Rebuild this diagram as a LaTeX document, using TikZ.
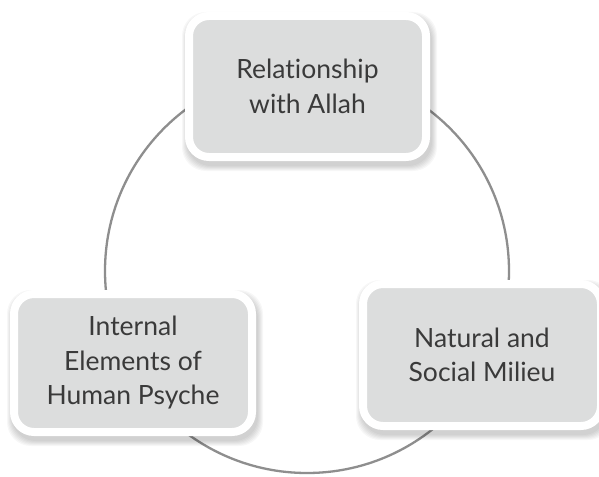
\documentclass[tikz,border=0pt]{standalone}
\usepackage{fontspec}
\setmainfont[Ligatures={NoCommon}]{Lato}
\definecolor{boxgray}{HTML}{DCDDDD}
\definecolor{txt}{HTML}{3A3A3A}
\definecolor{ring}{HTML}{8E8E8E}
\tikzset{
 topic/.style={draw=white, line width=8pt, fill=boxgray, rounded corners=20pt, text=txt, align=center, font=\fontsize{26.5}{34.5}\selectfont, inner sep=0pt},
 ringline/.style={draw=ring, line width=2.3pt},
 softshadow/.style={fill=black, opacity=0.03, rounded corners=24pt},
}
\begin{document}
\begin{tikzpicture}[x=1pt,y=-1pt]
\useasboundingbox (0,0) rectangle (599,476);
\fill[white] (0,0) rectangle (599,476);
\coordinate (c) at (307,271);
\draw[ringline] (c) circle[radius=202pt];
\foreach \cx/\cy/\w/\h in {307.5/86.5/245/149, 133/363/246/146, 482/355/246/150}{
  \foreach \k in {0,2,...,10}{
    \fill[softshadow] ({\cx-\w/2-\k/2+2}, {\cy-\h/2-\k/2+5}) rectangle ({\cx+\w/2+\k/2+2}, {\cy+\h/2+\k/2+5});
  }
}
\node[topic, minimum width=237pt, minimum height=141pt] (allah) at (307.5,86.5) {Relationship\\with Allah};
\node[topic, minimum width=238pt, minimum height=138pt] (psyche) at (133,363) {Internal\\Elements of\\Human Psyche};
\node[topic, minimum width=238pt, minimum height=142pt] (milieu) at (482,355) {Natural and\\Social Milieu};
\end{tikzpicture}
\end{document}
